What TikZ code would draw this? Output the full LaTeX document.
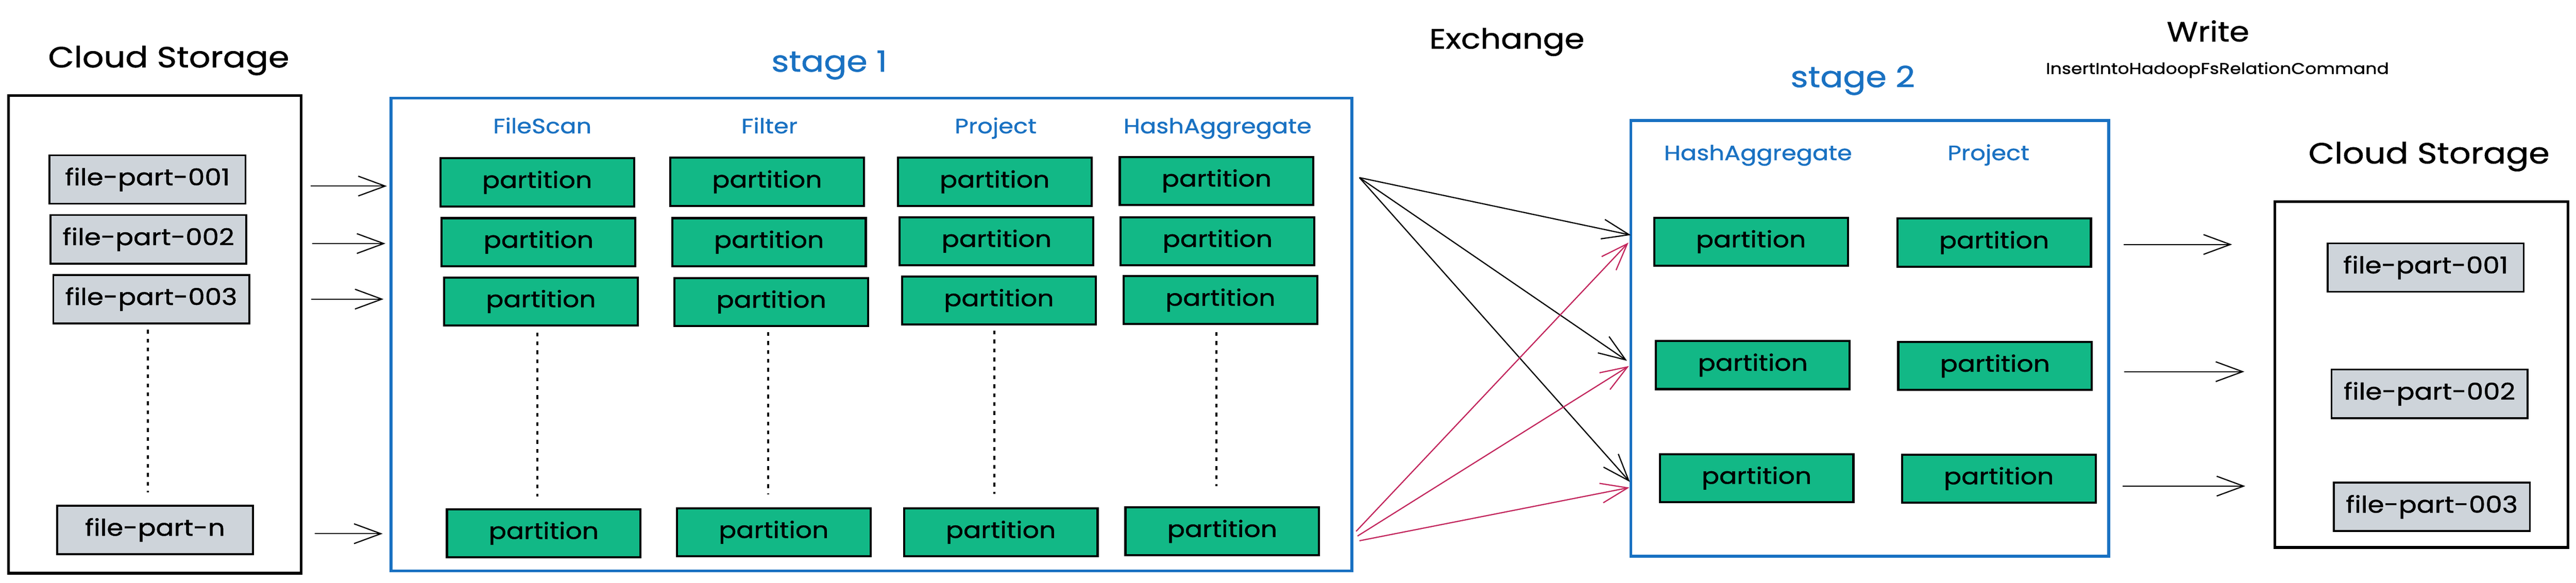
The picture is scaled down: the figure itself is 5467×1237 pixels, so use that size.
\documentclass[tikz,border=0pt]{standalone}
\usepackage{fontspec}
\setmainfont{Poppins}[FakeStretch=1.15,FakeBold=1]
\usetikzlibrary{arrows.meta}
\definecolor{exblue}{HTML}{1971C2}
\definecolor{exgreen}{HTML}{12B886}
\definecolor{exgray}{HTML}{CED4DA}
\definecolor{exred}{HTML}{C2255C}
\newcommand{\fsz}[1]{\fontsize{#1}{#1}\selectfont}
\begin{document}
\begin{tikzpicture}[x=0.1pt,y=-0.1pt,
  lbl/.style={anchor=base, inner sep=0pt},
  bigtitle/.style={lbl, font=\fsz{6.2pt}},
  stagetitle/.style={lbl, font=\fsz{6.2pt}, text=exblue},
  colhead/.style={lbl, font=\fsz{4.4pt}, text=exblue},
  midtitle/.style={lbl, font=\fsz{5.9pt}},
  smalltxt/.style={lbl, font=\fsz{3.3pt}},
  storebox/.style={draw=black, line width=0.6pt, inner sep=0pt},
  stagebox/.style={draw=exblue, line width=0.6pt, inner sep=0pt},
  filebox/.style={draw=black, fill=exgray, line width=0.4pt, minimum width=41.6pt, minimum height=10.3pt, inner sep=0pt, font=\fsz{4.9pt}},
  partbox/.style={draw=black, fill=exgreen, line width=0.45pt, minimum width=41.1pt, minimum height=10.2pt, inner sep=0pt, font=\fsz{4.8pt}},
  arr/.style={line width=0.25pt, -{Straight Barb[length=5.7pt,width=4.2pt]}},
  redarr/.style={arr, draw=exred},
  dotline/.style={line width=0.45pt, dash pattern=on 0.8pt off 1.1pt}
]
\fill[white] (0,0) rectangle (5467,1237);
\useasboundingbox (0,0) rectangle (5467,1237);

% titles
\node[bigtitle] (tcl) at (358,143) {Cloud Storage};
\node[stagetitle] (ts1) at (1760,152) {stage 1};
\node[midtitle] (tex) at (3198,103) {Exchange};
\node[stagetitle] (ts2) at (3932,185) {stage 2};
\node[midtitle] (twr) at (4686,88) {Write};
\node[smalltxt] (tins) at (4706,157) {InsertIntoHadoopFsRelationCommand};
\node[bigtitle] (tcr) at (5155,347) {Cloud Storage};

% containers
\node[storebox, minimum width=62.1pt, minimum height=101.4pt] (lstore) at (328.5,710) {};
\node[stagebox, minimum width=203.9pt, minimum height=100.4pt] (stage1) at (1849.5,710) {};
\node[stagebox, minimum width=101.4pt, minimum height=92.5pt] (stage2) at (3968,718.5) {};
\node[storebox, minimum width=62.2pt, minimum height=73.4pt] (rstore) at (5139,795) {};

% column headers
\node[colhead] (h11) at (1151,283) {FileScan};
\node[colhead] (h12) at (1633,283) {Filter};
\node[colhead] (h13) at (2113,283) {Project};
\node[colhead] (h14) at (2584,283) {HashAggregate};
\node[colhead] (h21) at (3731,340) {HashAggregate};
\node[colhead] (h22) at (4220,340) {Project};

% files
\node[filebox] (lf1) at (313,381) {file-part-001};
\node[filebox] (lf2) at (315,508) {file-part-002};
\node[filebox] (lf3) at (321,635) {file-part-003};
\node[filebox] (lfn) at (329,1125) {file-part-n};
\node[filebox] (rf1) at (5148,568) {file-part-001};
\node[filebox] (rf2) at (5156,836) {file-part-002};
\node[filebox] (rf3) at (5161,1076) {file-part-003};

% stage 1 partitions
\node[partbox] (p11) at (1140,387) {partition};
\node[partbox] (p12) at (1628,386) {partition};
\node[partbox] (p13) at (2111,386) {partition};
\node[partbox] (p14) at (2582,384) {partition};
\node[partbox] (p21) at (1143,514) {partition};
\node[partbox] (p22) at (1632,514) {partition};
\node[partbox] (p23) at (2115,512) {partition};
\node[partbox] (p24) at (2584,512) {partition};
\node[partbox] (p31) at (1148,640) {partition};
\node[partbox] (p32) at (1637,641) {partition};
\node[partbox] (p33) at (2120,638) {partition};
\node[partbox] (p34) at (2590,637) {partition};
\node[partbox] (p41) at (1154,1132) {partition};
\node[partbox] (p42) at (1642,1130) {partition};
\node[partbox] (p43) at (2124,1130) {partition};
\node[partbox] (p44) at (2594,1128) {partition};

% stage 2 partitions
\node[partbox] (q11) at (3716,513) {partition};
\node[partbox] (q12) at (4232,515) {partition};
\node[partbox] (q21) at (3720,775) {partition};
\node[partbox] (q22) at (4234,777) {partition};
\node[partbox] (q31) at (3728,1015) {partition};
\node[partbox] (q32) at (4242,1016) {partition};

% dotted continuation lines
\coordinate (d0a) at (314,700);  \coordinate (d0b) at (314,1045);
\coordinate (d1a) at (1140,706); \coordinate (d1b) at (1140,1054);
\coordinate (d2a) at (1630,705); \coordinate (d2b) at (1630,1050);
\coordinate (d3a) at (2110,702); \coordinate (d3b) at (2110,1048);
\coordinate (d4a) at (2581,705); \coordinate (d4b) at (2581,1032);
\foreach \i in {0,...,4} {\draw[dotline] (d\i a) -- (d\i b);}

% input arrows
\coordinate (ia1) at (659,395);  \coordinate (ib1) at (821,395);
\coordinate (ia2) at (663,517);  \coordinate (ib2) at (818,517);
\coordinate (ia3) at (660,635);  \coordinate (ib3) at (814,635);
\coordinate (ia4) at (668,1133); \coordinate (ib4) at (812,1133);
\foreach \i in {1,...,4} {\draw[arr] (ia\i) -- (ib\i);}

% exchange arrows
\coordinate (xb) at (2885,377);
\coordinate (xbe1) at (3461,499);
\coordinate (xbe2) at (3453,766);
\coordinate (xbe3) at (3459,1023);
\foreach \i in {1,2,3} {\draw[arr] (xb) -- (xbe\i);}
\coordinate (xr1) at (2878,1128); \coordinate (xre1) at (3456,515);
\coordinate (xr2) at (2881,1138); \coordinate (xre2) at (3457,777);
\coordinate (xr3) at (2885,1148); \coordinate (xre3) at (3458,1035);
\foreach \i in {1,2,3} {\draw[redarr] (xr\i) -- (xre\i);}

% output arrows
\coordinate (oa1) at (4507,519);  \coordinate (ob1) at (4737,519);
\coordinate (oa2) at (4508,789);  \coordinate (ob2) at (4763,789);
\coordinate (oa3) at (4505,1032); \coordinate (ob3) at (4765,1032);
\foreach \i in {1,2,3} {\draw[arr] (oa\i) -- (ob\i);}
\end{tikzpicture}
\end{document}
